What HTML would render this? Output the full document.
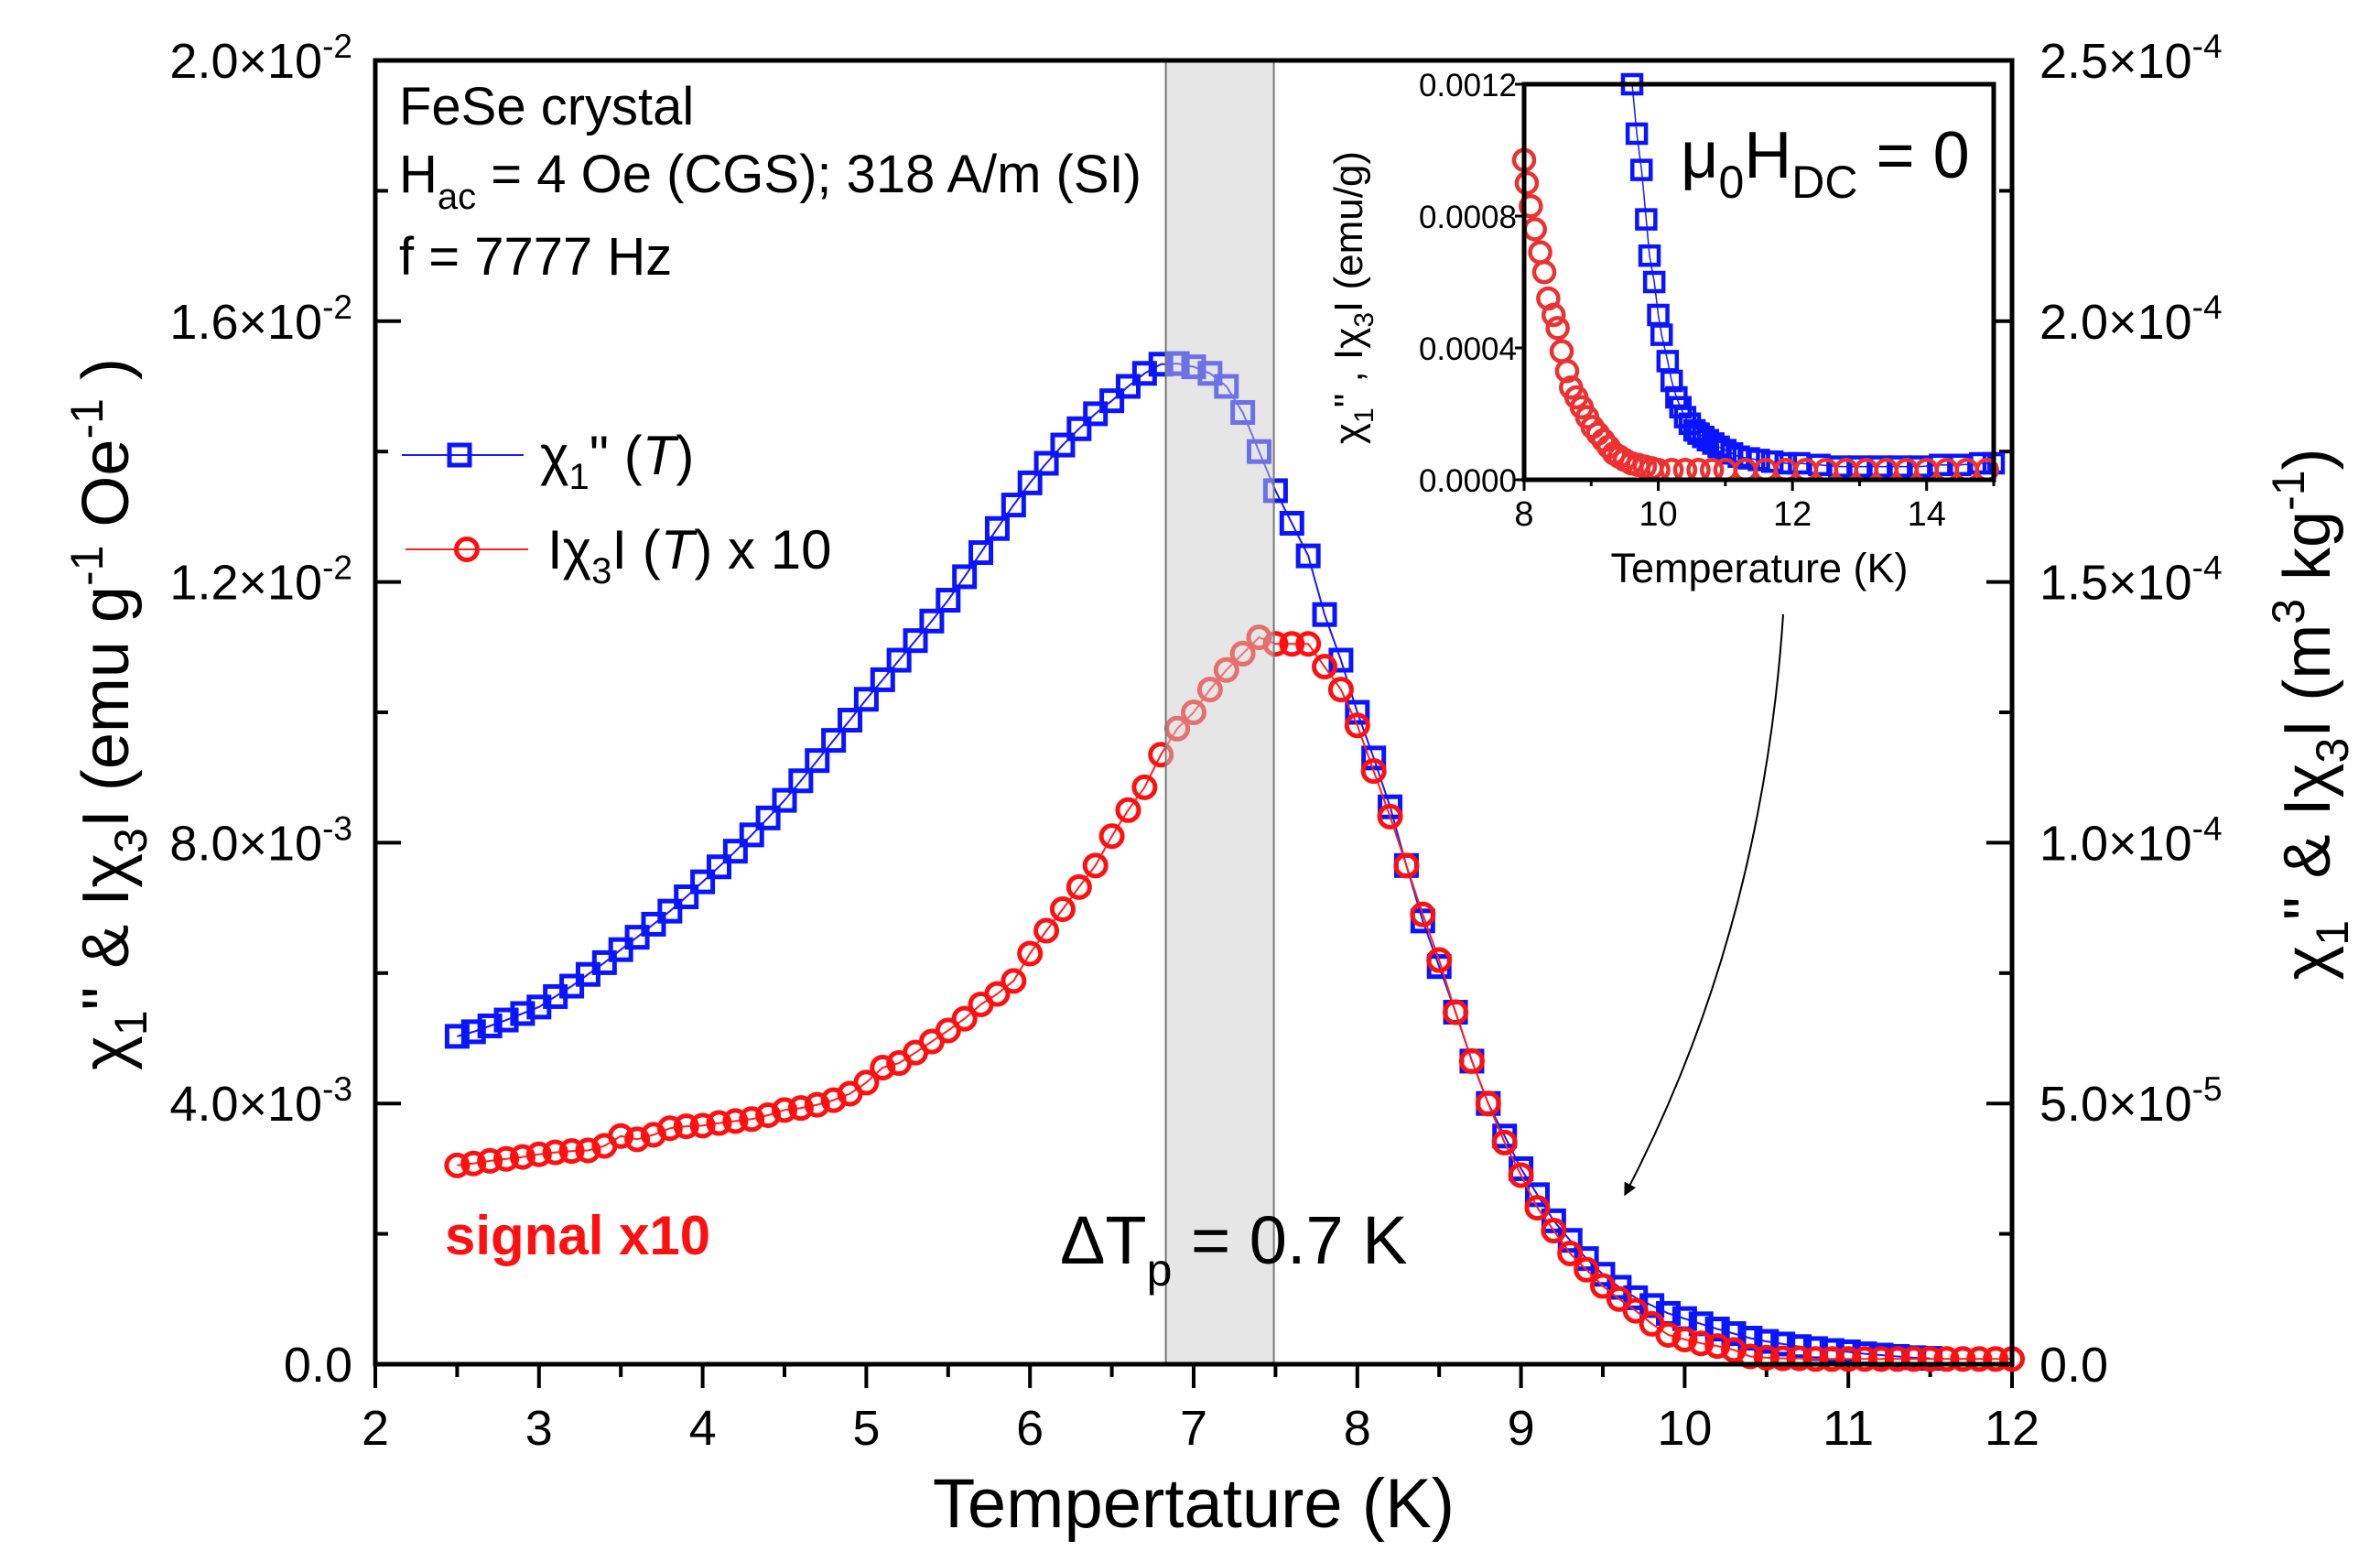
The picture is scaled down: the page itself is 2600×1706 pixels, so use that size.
<!DOCTYPE html>
<html><head><meta charset="utf-8"><style>
html,body{margin:0;padding:0;background:#fff;}
svg{display:block;font-family:"Liberation Sans",sans-serif;}
</style></head><body>
<svg id="chart" width="2600" height="1706" viewBox="0 0 2600 1706" xmlns="http://www.w3.org/2000/svg">
<g id="main"></g>
<g id="inset"></g>
</svg>
<script>
const temps = [2.5,2.6,2.7,2.8,2.9,3.0,3.1,3.2,3.3,3.4,3.5,3.6,3.7,3.8,3.9,4.0,4.1,4.2,4.3,4.4,4.5,4.6,4.7,4.8,4.9,5.0,5.1,5.2,5.3,5.4,5.5,5.6,5.7,5.8,5.9,6.0,6.1,6.2,6.3,6.4,6.5,6.6,6.7,6.8,6.9,7.0,7.1,7.2,7.3,7.4,7.5,7.6,7.7,7.8,7.9,8.0,8.1,8.2,8.3,8.4,8.5,8.6,8.7,8.8,8.9,9.0,9.1,9.2,9.3,9.4,9.5,9.6,9.7,9.8,9.9,10.0,10.1,10.2,10.3,10.4,10.5,10.6,10.7,10.8,10.9,11.0,11.1,11.2,11.3,11.4,11.5,11.6,11.7,11.8,11.9,12.0];
const chi1 = [5.03,5.10,5.19,5.28,5.38,5.48,5.64,5.80,5.98,6.16,6.36,6.55,6.75,6.95,7.17,7.40,7.63,7.87,8.12,8.38,8.65,8.95,9.26,9.57,9.88,10.20,10.50,10.80,11.10,11.40,11.72,12.08,12.45,12.82,13.18,13.52,13.82,14.10,14.35,14.58,14.78,15.00,15.20,15.34,15.35,15.30,15.20,15.00,14.60,14.00,13.40,12.90,12.40,11.50,10.80,10.00,9.30,8.55,7.65,6.80,6.10,5.40,4.65,4.00,3.50,3.00,2.60,2.20,1.90,1.62,1.38,1.18,1.02,0.90,0.78,0.70,0.62,0.54,0.47,0.40,0.35,0.31,0.27,0.24,0.21,0.19,0.16,0.14,0.12,0.10,0.09];
const chi3x10 = [3.05,3.08,3.12,3.15,3.18,3.22,3.25,3.27,3.28,3.35,3.50,3.45,3.52,3.62,3.65,3.66,3.70,3.73,3.76,3.82,3.90,3.93,3.98,4.05,4.15,4.32,4.55,4.62,4.78,4.95,5.12,5.30,5.52,5.68,5.88,6.30,6.65,6.98,7.32,7.65,8.10,8.50,8.85,9.35,9.75,10.00,10.35,10.65,10.90,11.15,11.05,11.05,11.05,10.70,10.35,9.80,9.10,8.40,7.65,6.90,6.20,5.40,4.65,4.00,3.40,2.90,2.40,2.05,1.70,1.45,1.20,1.00,0.82,0.62,0.45,0.38,0.32,0.28,0.22,0.12,0.10,0.09,0.09,0.08,0.08,0.08,0.08,0.08,0.08,0.08,0.08,0.08,0.08,0.08,0.08,0.08];
const xTicks = [2,3,4,5,6,7,8,9,10,11,12];
const yLeftTicks = [0,4,8,12,16,20];
const yLeftLabels = ["0.0","4.0×10","8.0×10","1.2×10","1.6×10","2.0×10"];
const yLeftExp = ["","-3","-3","-2","-2","-2"];
const yRightTicks = [0,5,10,15,20,25];
const yRightLabels = ["0.0","5.0×10","1.0×10","1.5×10","2.0×10","2.5×10"];
const yRightExp = ["","-5","-4","-4","-4","-4"];
const band = [6.83,7.49];
const insetBlueT = [9.61,9.68,9.75,9.82,9.87,9.94,10.0,10.05,10.14,10.2,10.27,10.33,10.4,10.47,10.54,10.6,10.67,10.74,10.82,10.9,11.0,11.1,11.2,11.35,11.5,11.7,11.9,12.1,12.4,12.7,13.0,13.3,13.6,13.9,14.2,14.5,14.8,15.0];
const insetBlue = [1.20,1.05,0.94,0.79,0.68,0.60,0.50,0.44,0.36,0.30,0.25,0.22,0.19,0.17,0.15,0.14,0.13,0.12,0.11,0.10,0.09,0.08,0.07,0.065,0.06,0.055,0.05,0.05,0.045,0.04,0.04,0.04,0.04,0.04,0.045,0.045,0.05,0.05];
const insetRedT = [8.0,8.04,8.1,8.16,8.24,8.3,8.36,8.44,8.5,8.56,8.64,8.7,8.78,8.86,8.94,9.02,9.1,9.18,9.26,9.34,9.42,9.5,9.6,9.7,9.8,9.9,10.0,10.2,10.4,10.6,10.8,11.0,11.3,11.6,11.9,12.2,12.5,12.8,13.1,13.4,13.7,14.0,14.3,14.6,14.9];
const insetRed = [0.97,0.90,0.83,0.76,0.69,0.63,0.55,0.50,0.46,0.39,0.33,0.28,0.25,0.22,0.19,0.16,0.14,0.12,0.10,0.08,0.07,0.06,0.05,0.045,0.04,0.035,0.03,0.03,0.03,0.03,0.03,0.03,0.03,0.03,0.03,0.03,0.03,0.03,0.03,0.03,0.03,0.03,0.03,0.03,0.03];

const NS="http://www.w3.org/2000/svg";
function mk(parent,tag,attrs,text){const e=document.createElementNS(NS,tag);for(const k in attrs)e.setAttribute(k,attrs[k]);if(text!==undefined)e.textContent=text;parent.appendChild(e);return e;}
const L=410,R=2198,T=66,B=1490;
const xs=t=>L+(t-2)/10*(R-L);
const ys=v=>B-v/20*(B-T);
const yr=v=>B-v/25*(B-T);
const main=document.getElementById('main');

for(let i=0;i<xTicks.length;i++){const x=xs(xTicks[i]);
 const tk=mk(main,'line',{x1:x,y1:B,x2:x,y2:B+26,stroke:'#000','stroke-width':4});
 
 
 if(i<xTicks.length-1){const xm=xs(xTicks[i]+0.5);mk(main,'line',{x1:xm,y1:B,x2:xm,y2:B+14,stroke:'#000','stroke-width':4});}
 const lb=mk(main,'text',{x:x,y:B+88,'font-size':54,'text-anchor':'middle'},String(xTicks[i]));
 
 
}
for(let i=0;i<yLeftTicks.length;i++){const y=ys(yLeftTicks[i]);
 mk(main,'line',{x1:L,y1:y,x2:L+28,y2:y,stroke:'#000','stroke-width':4});
 if(i<yLeftTicks.length-1){const ym=ys(yLeftTicks[i]+2);mk(main,'line',{x1:L,y1:ym,x2:L+14,y2:ym,stroke:'#000','stroke-width':4});}
 const t=mk(main,'text',{x:385,y:y+19,'font-size':54,'text-anchor':'end'});
 
 
 mk(t,'tspan',{},yLeftLabels[i]);
 if(yLeftExp[i])mk(t,'tspan',{dy:-22,'font-size':37},yLeftExp[i]);
}
for(let i=0;i<yRightTicks.length;i++){const y=yr(yRightTicks[i]);
 mk(main,'line',{x1:R,y1:y,x2:R-28,y2:y,stroke:'#000','stroke-width':4});
 if(i<yRightTicks.length-1){const ym=yr(yRightTicks[i]+2.5);mk(main,'line',{x1:R,y1:ym,x2:R-14,y2:ym,stroke:'#000','stroke-width':4});}
 const t=mk(main,'text',{x:2228,y:y+19,'font-size':54});
 
 
 mk(t,'tspan',{},yRightLabels[i]);
 if(yRightExp[i])mk(t,'tspan',{dy:-22,'font-size':37},yRightExp[i]);
}
function poly(g,X,Y,sx,sy,col,w){let d='';for(let i=0;i<Y.length;i++)d+=(i?'L':'M')+sx(X[i]).toFixed(1)+','+sy(Y[i]).toFixed(1);return mk(g,'path',{d:d,fill:'none',stroke:col,'stroke-width':w});}
const bl=poly(main,temps,chi1,xs,ys,'#1a1aff',2);


for(let i=0;i<chi1.length;i++){const s=mk(main,'rect',{x:xs(temps[i])-11,y:ys(chi1[i])-11,width:22,height:22,fill:'none',stroke:'#0a14ff','stroke-width':5});
 
 }
const rl=poly(main,temps,chi3x10,xs,ys,'#ff2020',2);


for(let i=0;i<chi3x10.length;i++){const c=mk(main,'circle',{cx:xs(temps[i]),cy:ys(chi3x10[i]),r:11.5,fill:'none',stroke:'#ff1010','stroke-width':5});
 
 }
const bd=mk(main,'rect',{x:xs(band[0]),y:T,width:xs(band[1])-xs(band[0]),height:B-T,fill:'rgba(205,205,205,0.5)',stroke:'#777','stroke-width':2});


const fr=mk(main,'rect',{x:L,y:T,width:R-L,height:B-T,fill:'none',stroke:'#000','stroke-width':5});



const ins=document.getElementById('inset');
const IL=1665,IR=2178,IT=92,IB=524;
const ix=t=>IL+(t-8)/7*(IR-IL);
const iy=v=>IB-v/1.2*(IB-IT);
mk(ins,'rect',{x:IL,y:IT,width:IR-IL,height:IB-IT,fill:'#fff'});
const ibl=poly(ins,insetBlueT,insetBlue,ix,iy,'#1a1aff',1.5);


for(let i=0;i<insetBlue.length;i++){const s=mk(ins,'rect',{x:ix(insetBlueT[i])-10,y:iy(insetBlue[i])-10,width:20,height:20,fill:'none',stroke:'#0a14ff','stroke-width':4.5});
 
 }
for(let i=0;i<insetRed.length;i++){const c=mk(ins,'circle',{cx:ix(insetRedT[i]),cy:iy(insetRed[i]),r:11,fill:'none',stroke:'#ee3030','stroke-width':4.5});
 
 }
const insetXT=[8,10,12,14], insetYT=[0,0.4,0.8,1.2], insetYL=["0.0000","0.0004","0.0008","0.0012"];
for(let i=0;i<insetXT.length;i++){const x=ix(insetXT[i]);mk(ins,'line',{x1:x,y1:IB,x2:x,y2:IB+12,stroke:'#000','stroke-width':3});
 mk(ins,'line',{x1:ix(insetXT[i]+1),y1:IB,x2:ix(insetXT[i]+1),y2:IB+7,stroke:'#000','stroke-width':3});
 const t=mk(ins,'text',{x:x,y:IB+50,'font-size':38,'text-anchor':'middle'},String(insetXT[i]));
 
 }
for(let i=0;i<insetYT.length;i++){const y=iy(insetYT[i]);mk(ins,'line',{x1:IL,y1:y,x2:IL-10,y2:y,stroke:'#000','stroke-width':3});
 const t=mk(ins,'text',{x:IL-8,y:y+13,'font-size':35,'text-anchor':'end'},insetYL[i]);
 
 }
const ifr=mk(ins,'rect',{x:IL,y:IT,width:IR-IL,height:IB-IT,fill:'none',stroke:'#000','stroke-width':5});


</script>
<svg style="position:absolute;left:0;top:0" width="2600" height="1706" viewBox="0 0 2600 1706" xmlns="http://www.w3.org/2000/svg" font-family="Liberation Sans, sans-serif">
<defs><marker id="ah2" viewBox="0 0 10 10" refX="9" refY="5" markerWidth="14" markerHeight="24" orient="auto" markerUnits="userSpaceOnUse"><path d="M0,0 L10,5 L0,10 z" fill="#000"/></marker></defs>
<path d="M1948,671 Q1925,1020 1775,1305" fill="none" stroke="#000" stroke-width="2" marker-end="url(#ah2)"/>
<text x="436" y="136" font-size="58">FeSe crystal</text>
<text x="436" y="210" font-size="58">H<tspan dy="18" font-size="40">ac</tspan><tspan dy="-18"> = 4 Oe (CGS); 318 A/m (SI)</tspan></text>
<text x="436" y="300" font-size="58">f = 7777 Hz</text>
<g>
<line x1="439" y1="497" x2="572" y2="497" stroke="#1a1aff" stroke-width="2"/>
<rect x="491" y="486" width="22" height="22" fill="none" stroke="#0a14ff" stroke-width="5"/>
<text x="590" y="518" font-size="60">χ<tspan dy="16" font-size="40">1</tspan><tspan dy="-16">" (</tspan><tspan font-style="italic">T</tspan>)</text>
<line x1="443" y1="600" x2="577" y2="600" stroke="#ff2020" stroke-width="2"/>
<circle cx="510" cy="600" r="11.5" fill="none" stroke="#ff1010" stroke-width="5"/>
<text x="598" y="621" font-size="60">Iχ<tspan dy="16" font-size="40">3</tspan><tspan dy="-16">I (</tspan><tspan font-style="italic">T</tspan>) x 10</text>
</g>
<text x="486" y="1370" font-size="60" font-weight="bold" fill="#ff1010">signal x10</text>
<text x="1158" y="1380" font-size="74">ΔT<tspan dy="24" font-size="50">p</tspan><tspan dy="-24"> = 0.7 K</tspan></text>
<text x="1836" y="194" font-size="72">μ<tspan dy="22" font-size="50">0</tspan><tspan dy="-22">H</tspan><tspan dy="22" font-size="50">DC</tspan><tspan dy="-22"> = 0</tspan></text>
<text x="1922" y="636" font-size="45" text-anchor="middle">Temperature (K)</text>
<text transform="translate(1488,325) rotate(-90)" font-size="44" text-anchor="middle">χ<tspan dy="12" font-size="30">1</tspan><tspan dy="-12">" , Iχ</tspan><tspan dy="12" font-size="30">3</tspan><tspan dy="-12">I (emu/g)</tspan></text>
<text x="1304" y="1668" font-size="76" text-anchor="middle">Tempertature (K)</text>
<text transform="translate(140,780) rotate(-90)" font-size="72" text-anchor="middle">χ<tspan dy="20" font-size="50">1</tspan><tspan dy="-20">" &amp; Iχ</tspan><tspan dy="20" font-size="50">3</tspan><tspan dy="-20">I  (emu g</tspan><tspan dy="-28" font-size="50">-1</tspan><tspan dy="28"> Oe</tspan><tspan dy="-28" font-size="50">-1</tspan><tspan dy="28"> )</tspan></text>
<text transform="translate(2545,780) rotate(-90)" font-size="72" text-anchor="middle">χ<tspan dy="20" font-size="50">1</tspan><tspan dy="-20">" &amp; Iχ</tspan><tspan dy="20" font-size="50">3</tspan><tspan dy="-20">I  (m</tspan><tspan dy="-28" font-size="50">3</tspan><tspan dy="28"> kg</tspan><tspan dy="-28" font-size="50">-1</tspan><tspan dy="28">)</tspan></text>
</svg>
</body></html>
